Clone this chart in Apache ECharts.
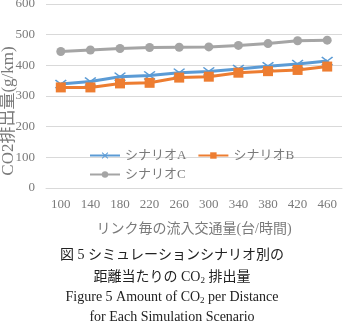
<!DOCTYPE html>
<html>
<head>
<meta charset="utf-8">
<script src="https://cdn.jsdelivr.net/npm/echarts@6/dist/echarts.min.js"></script>
<style>
  html, body { margin: 0; padding: 0; background: #fff; }
  #chart { width: 344px; height: 330px; }
</style>
</head>
<body>
<div id="chart"></div>
<script>
const categories = ['100', '140', '180', '220', '260', '300', '340', '380', '420', '460']
const scenarioA = [339, 347, 363, 367, 376, 380, 388, 397, 404, 414]
const scenarioB = [328, 328, 341, 343, 360, 363, 376, 381, 385, 396]
const scenarioC = [445, 450, 455, 458, 459, 460, 465, 471, 480, 482]
const seriesNames = ['シナリオA', 'シナリオB', 'シナリオC']

const FONT = '"Liberation Serif", "Noto Sans CJK JP", serif'
const GRAY = '#7a7a7a'
// X-shaped marker for scenario A
const CROSS = 'path://M0,1L1,0L5,4L9,0L10,1L6,5L10,9L9,10L5,6L1,10L0,9L4,5Z'

const myChart = echarts.init(document.getElementById('chart'))

const captionStyle = {
  fontFamily: FONT,
  fontSize: 14,
  fontWeight: 'normal',
  color: '#222',
  rich: {
    sub: { fontFamily: FONT, fontSize: 9, color: '#222', padding: [7, 0, 0, 0] }
  }
}

const legendCommon = {
  itemWidth: 30,
  itemHeight: 8,
  itemGap: 11,
  textStyle: { fontFamily: FONT, fontSize: 13, color: GRAY }
}

const option = {
  animation: false,
  grid: { top: 4, bottom: 142, left: 46, right: 2, outerBoundsMode: 'none' },
  title: [
    { text: '図 5 シミュレーションシナリオ別の', left: 'center', top: 243, textStyle: captionStyle },
    { text: '距離当たりの CO{sub|2} 排出量', left: 'center', top: 264, textStyle: captionStyle },
    { text: 'Figure 5 Amount of CO{sub|2} per Distance', left: 'center', top: 284, textStyle: captionStyle },
    { text: 'for Each Simulation Scenario', left: 'center', top: 305, textStyle: captionStyle }
  ],
  legend: [
    Object.assign({ data: [seriesNames[0], seriesNames[1]], left: 84, top: 144 }, legendCommon),
    Object.assign({ data: [seriesNames[2]], left: 84, top: 163 }, legendCommon)
  ],
  graphic: [
    {
      type: 'text',
      x: 9,
      y: 111,
      rotation: Math.PI / 2,
      style: {
        text: 'CO2排出量(g/km)',
        fontFamily: FONT,
        fontSize: 17,
        fill: GRAY,
        align: 'center',
        verticalAlign: 'middle'
      }
    }
  ],
  xAxis: {
    type: 'category',
    data: categories,
    name: 'リンク毎の流入交通量(台/時間)',
    nameLocation: 'middle',
    nameGap: 34,
    nameTextStyle: { fontFamily: FONT, fontSize: 14, color: GRAY },
    axisLine: { show: true, lineStyle: { color: '#D9D9D9' } },
    axisTick: { show: false },
    axisLabel: { fontFamily: FONT, fontSize: 13, color: GRAY, margin: 10 }
  },
  yAxis: {
    type: 'value',
    min: 0,
    max: 600,
    interval: 100,
    axisLine: { show: false },
    axisTick: { show: false },
    axisLabel: { fontFamily: FONT, fontSize: 13, color: GRAY, margin: 11 },
    splitLine: { lineStyle: { color: '#D9D9D9' } }
  },
  series: [
    {
      name: seriesNames[0],
      type: 'line',
      data: scenarioA,
      symbol: CROSS,
      symbolSize: [12, 9],
      itemStyle: { color: '#5B9BD5' },
      lineStyle: { color: '#5B9BD5', width: 3 },
      z: 3
    },
    {
      name: seriesNames[1],
      type: 'line',
      data: scenarioB,
      symbol: 'rect',
      symbolSize: 10,
      itemStyle: { color: '#ED7D31' },
      lineStyle: { color: '#ED7D31', width: 3 },
      z: 4
    },
    {
      name: seriesNames[2],
      type: 'line',
      data: scenarioC,
      symbol: 'circle',
      symbolSize: 9,
      itemStyle: { color: '#A5A5A5' },
      lineStyle: { color: '#A5A5A5', width: 3 },
      z: 2
    }
  ]
}

myChart.setOption(option)
</script>
</body>
</html>
